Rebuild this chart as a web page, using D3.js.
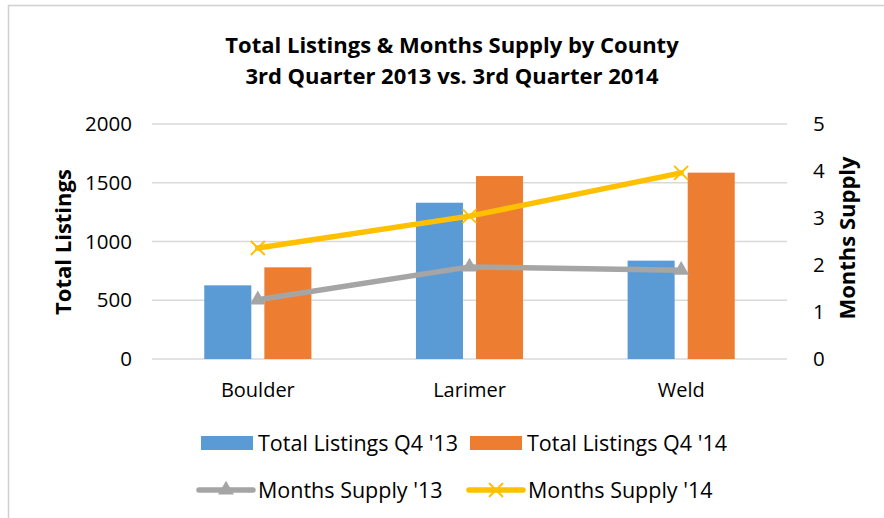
<!DOCTYPE html>
<html>
<head>
<meta charset="utf-8">
<script src="https://cdnjs.cloudflare.com/ajax/libs/d3/7.8.5/d3.min.js"></script>
<style>
  body { margin: 0; background: #fff; }
  svg { display: block; font-family: 'Open Sans', sans-serif; }
</style>
</head>
<body>
<svg></svg>
<script>
var width = 884;
var height = 518;

// data
var counties = ['Boulder', 'Larimer', 'Weld'];
var listings13 = [627, 1330, 837];
var listings14 = [780, 1557, 1586];
var supply13 = [1.26, 1.96, 1.89];
var supply14 = [2.36, 3.04, 3.96];
var leftTicks = [0, 500, 1000, 1500, 2000];
var rightTicks = [0, 1, 2, 3, 4, 5];
var barSeries = ["Total Listings Q4 '13", "Total Listings Q4 '14"];
var lineSeries = ["Months Supply '13", "Months Supply '14"];

var colors = { blue: '#5b9bd5', orange: '#ed7d31', gray: '#a5a5a5', yellow: '#ffc000' };

var svg = d3.select('svg')
    .attr('width', width)
    .attr('height', height);

// chart frame (only top and left edges visible)
svg.append('path')
    .attr('d', 'M8.5,' + height + 'V5.5H' + width)
    .attr('fill', 'none')
    .attr('stroke', '#d0d0d0')
    .attr('stroke-width', 1.5);

var plot = { left: 152, right: 787, top: 124, bottom: 359 };

var xScale = d3.scaleBand()
    .domain(counties)
    .range([plot.left, plot.right]);

var xInner = d3.scaleBand()
    .domain([0, 1])
    .range([0, xScale.bandwidth()])
    .paddingInner(0.217)
    .paddingOuter(0.87);

var yScale = d3.scaleLinear()
    .domain([0, 2000])
    .range([plot.bottom, plot.top]);

var y2Scale = d3.scaleLinear()
    .domain([0, 5])
    .range([plot.bottom, plot.top]);

// gridlines
svg.append('g')
    .selectAll('line')
    .data(leftTicks)
    .enter()
    .append('line')
    .attr('x1', plot.left)
    .attr('x2', plot.right)
    .attr('y1', d => yScale(d))
    .attr('y2', d => yScale(d))
    .attr('stroke', '#d9d9d9')
    .attr('stroke-width', 1.5);

// left axis
var leftAxis = svg.append('g')
    .attr('transform', 'translate(' + (plot.left - 20) + ',0)')
    .call(d3.axisLeft(yScale).tickValues(leftTicks).tickFormat(d3.format('d')).tickSize(0).tickPadding(0));
leftAxis.select('.domain').remove();
leftAxis.selectAll('text')
    .style('font-family', 'Open Sans')
    .style('font-size', '20.5px')
    .attr('fill', '#000');

// right axis
var rightAxis = svg.append('g')
    .attr('transform', 'translate(' + (plot.right + 26) + ',0)')
    .call(d3.axisRight(y2Scale).tickValues(rightTicks).tickFormat(d3.format('d')).tickSize(0).tickPadding(0));
rightAxis.select('.domain').remove();
rightAxis.selectAll('text')
    .style('font-family', 'Open Sans')
    .style('font-size', '20.5px')
    .attr('fill', '#000');

// category axis
var bottomAxis = svg.append('g')
    .attr('transform', 'translate(0,' + (plot.bottom + 24) + ')')
    .call(d3.axisBottom(xScale).tickSize(0).tickPadding(0));
bottomAxis.select('.domain').remove();
bottomAxis.selectAll('text')
    .style('font-family', 'Open Sans')
    .style('font-size', '20px')
    .attr('fill', '#000');

// bars
var barData = counties.map((c, i) => ({ county: c, values: [listings13[i], listings14[i]] }));
var barColors = [colors.blue, colors.orange];

svg.append('g')
    .selectAll('g')
    .data(barData)
    .enter()
    .append('g')
    .attr('transform', d => 'translate(' + xScale(d.county) + ',0)')
    .selectAll('rect')
    .data(d => d.values)
    .enter()
    .append('rect')
    .attr('x', (d, i) => xInner(i))
    .attr('width', xInner.bandwidth())
    .attr('y', d => yScale(d))
    .attr('height', d => plot.bottom - yScale(d))
    .attr('fill', (d, i) => barColors[i]);

// lines
var line = d3.line()
    .x((d, i) => xScale(counties[i]) + xScale.bandwidth() / 2)
    .y(d => y2Scale(d));

var triangle = d3.symbol().type(d3.symbolTriangle).size(110);

svg.append('path')
    .datum(supply13)
    .attr('d', line)
    .attr('fill', 'none')
    .attr('stroke', colors.gray)
    .attr('stroke-width', 5.5)
    .attr('stroke-linecap', 'round');

svg.append('g')
    .selectAll('path')
    .data(supply13)
    .enter()
    .append('path')
    .attr('d', triangle)
    .attr('transform', (d, i) => 'translate(' + (xScale(counties[i]) + xScale.bandwidth() / 2) + ',' + y2Scale(d) + ')')
    .attr('fill', colors.gray);

svg.append('path')
    .datum(supply14)
    .attr('d', line)
    .attr('fill', 'none')
    .attr('stroke', colors.yellow)
    .attr('stroke-width', 5.5)
    .attr('stroke-linecap', 'round');

function crossPath(s) {
    return 'M' + (-s) + ',' + (-s) + 'L' + s + ',' + s + 'M' + (-s) + ',' + s + 'L' + s + ',' + (-s);
}

svg.append('g')
    .selectAll('path')
    .data(supply14)
    .enter()
    .append('path')
    .attr('d', crossPath(7))
    .attr('transform', (d, i) => 'translate(' + (xScale(counties[i]) + xScale.bandwidth() / 2) + ',' + y2Scale(d) + ')')
    .attr('fill', 'none')
    .attr('stroke', colors.yellow)
    .attr('stroke-width', 2);

// title
var title = svg.append('text')
    .attr('text-anchor', 'middle')
    .style('font-family', 'Open Sans')
    .style('font-weight', 'bold')
    .style('font-size', '22px');
title.append('tspan').attr('x', 452).attr('y', 53).text('Total Listings & Months Supply by County');
title.append('tspan').attr('x', 452).attr('y', 84).text('3rd Quarter 2013 vs. 3rd Quarter 2014');

// axis titles
svg.append('text')
    .text('Total Listings')
    .attr('transform', 'translate(71,242) rotate(-90)')
    .attr('text-anchor', 'middle')
    .style('font-family', 'Open Sans')
    .style('font-weight', 'bold')
    .style('font-size', '22px');

svg.append('text')
    .text('Months Supply')
    .attr('transform', 'translate(855,238) rotate(-90)')
    .attr('text-anchor', 'middle')
    .style('font-family', 'Open Sans')
    .style('font-weight', 'bold')
    .style('font-size', '22px');

// legend
var legend = svg.append('g');

var barLegend = [
    { label: barSeries[0], color: colors.blue, x: 201 },
    { label: barSeries[1], color: colors.orange, x: 470 }
];
barLegend.forEach(function(item) {
    legend.append('rect')
        .attr('x', item.x)
        .attr('y', 436)
        .attr('width', 52)
        .attr('height', 14)
        .attr('fill', item.color);
    legend.append('text')
        .attr('x', item.x + 57)
        .attr('y', 443)
        .attr('dy', '0.35em')
        .text(item.label)
        .style('font-family', 'Open Sans')
        .style('font-size', '21.5px');
});

var lineLegend = [
    { label: lineSeries[0], color: colors.gray, x: 199, marker: 'triangle' },
    { label: lineSeries[1], color: colors.yellow, x: 469, marker: 'cross' }
];
lineLegend.forEach(function(item) {
    var cy = 490;
    legend.append('line')
        .attr('x1', item.x)
        .attr('x2', item.x + 54)
        .attr('y1', cy)
        .attr('y2', cy)
        .attr('stroke', item.color)
        .attr('stroke-width', 5.5)
        .attr('stroke-linecap', 'round');
    if (item.marker === 'triangle') {
        legend.append('path')
            .attr('d', triangle)
            .attr('transform', 'translate(' + (item.x + 27) + ',' + cy + ')')
            .attr('fill', item.color);
    } else {
        legend.append('path')
            .attr('d', crossPath(7))
            .attr('transform', 'translate(' + (item.x + 27) + ',' + cy + ')')
            .attr('fill', 'none')
            .attr('stroke', item.color)
            .attr('stroke-width', 2);
    }
    legend.append('text')
        .attr('x', item.x + 59)
        .attr('y', cy)
        .attr('dy', '0.35em')
        .text(item.label)
        .style('font-family', 'Open Sans')
        .style('font-size', '21.5px');
});
</script>
</body>
</html>
